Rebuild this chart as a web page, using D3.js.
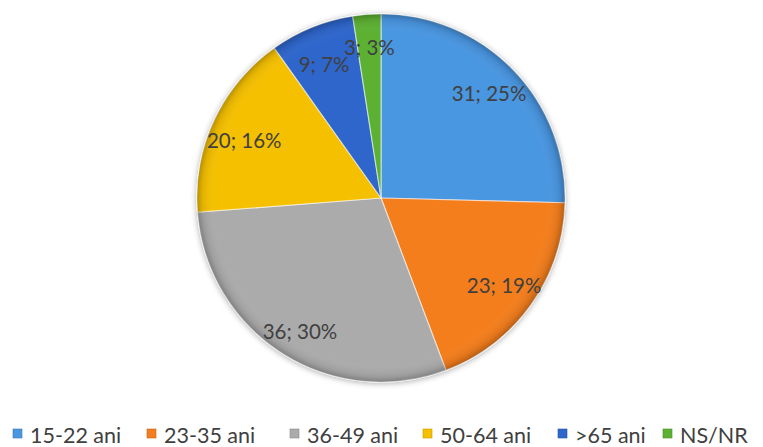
<!DOCTYPE html>
<html>
<head>
<meta charset="utf-8">
<script src="https://cdn.jsdelivr.net/npm/d3@7"></script>
<style>
  html, body { margin: 0; padding: 0; background: #ffffff; }
  svg { display: block; }
</style>
</head>
<body>
<svg id="chart" width="763" height="447"></svg>
<script>
const categories = ["15-22 ani", "23-35 ani", "36-49 ani", "50-64 ani", ">65 ani", "NS/NR"];
const values = [31, 23, 36, 20, 9, 3];
const percentLabels = ["25%", "19%", "30%", "16%", "7%", "3%"];
const colors = ["#4A96E1", "#F47E1F", "#ABABAB", "#F5C000", "#2E66CC", "#5CB132"];

const svg = d3.select("#chart");
const cx = 381, cy = 198, R = 184;

const defs = svg.append("defs");
const shadow = defs.append("filter").attr("id", "shadow")
  .attr("x", "-20%").attr("y", "-20%").attr("width", "140%").attr("height", "140%");
shadow.append("feGaussianBlur").attr("in", "SourceAlpha").attr("stdDeviation", 3);
shadow.append("feOffset").attr("dx", 0).attr("dy", 1).attr("result", "off");
shadow.append("feComponentTransfer").append("feFuncA").attr("type", "linear").attr("slope", 0.35);
const merge = shadow.append("feMerge");
merge.append("feMergeNode");
merge.append("feMergeNode").attr("in", "SourceGraphic");

const rg = defs.append("radialGradient").attr("id", "bevel")
  .attr("cx", "50%").attr("cy", "50%").attr("r", "50%");
rg.append("stop").attr("offset", "0%").attr("stop-color", "#fff").attr("stop-opacity", 0.0);
rg.append("stop").attr("offset", "90%").attr("stop-color", "#fff").attr("stop-opacity", 0.0);
rg.append("stop").attr("offset", "97%").attr("stop-color", "#000").attr("stop-opacity", 0.08);
rg.append("stop").attr("offset", "100%").attr("stop-color", "#000").attr("stop-opacity", 0.25);

const pie = d3.pie().sort(null).value(d => d);
const arcs = pie(values);
const arc = d3.arc().innerRadius(0).outerRadius(R);
const labelArc = d3.arc().innerRadius(151).outerRadius(151);

const g = svg.append("g").attr("transform", `translate(${cx},${cy})`);
const pg = g.append("g").attr("filter", "url(#shadow)");

pg.selectAll("path.slice").data(arcs).enter().append("path")
  .attr("class", "slice")
  .attr("d", arc)
  .attr("fill", (d, i) => colors[i])
  .attr("stroke", "rgba(255,255,255,0.55)")
  .attr("stroke-width", 1.2)
  .attr("stroke-linejoin", "round");

g.append("circle").attr("r", R).attr("fill", "url(#bevel)").attr("pointer-events", "none");

g.selectAll("text.lbl").data(arcs).enter().append("text")
  .attr("class", "lbl")
  .attr("transform", d => {
    const [x, y] = labelArc.centroid(d);
    // labels on the left half sit a little lower (inside-end placement)
    return `translate(${x},${y + (x < -20 ? 6 : 0)})`;
  })
  .attr("text-anchor", "middle")
  .attr("dominant-baseline", "central")
  .attr("font-family", "Lato, 'Open Sans', sans-serif")
  .attr("font-size", 20.5)
  .attr("fill", "#404040")
  .text((d, i) => `${values[i]}; ${percentLabels[i]}`);

const legendX = [13, 147, 290, 423, 558, 663];
const lg = svg.append("g");
categories.forEach((c, i) => {
  const item = lg.append("g").attr("transform", `translate(${legendX[i]},0)`);
  item.append("rect").attr("x", 0).attr("y", 429).attr("width", 9).attr("height", 9)
    .attr("fill", colors[i]).attr("stroke", d3.color(colors[i]).darker(0.6)).attr("stroke-width", 0.6);
  item.append("text").attr("x", 17).attr("y", 443)
    .attr("font-family", "Lato, 'Open Sans', sans-serif")
    .attr("font-size", 21.5)
    .attr("fill", "#404040")
    .text(c);
});
</script>
</body>
</html>
